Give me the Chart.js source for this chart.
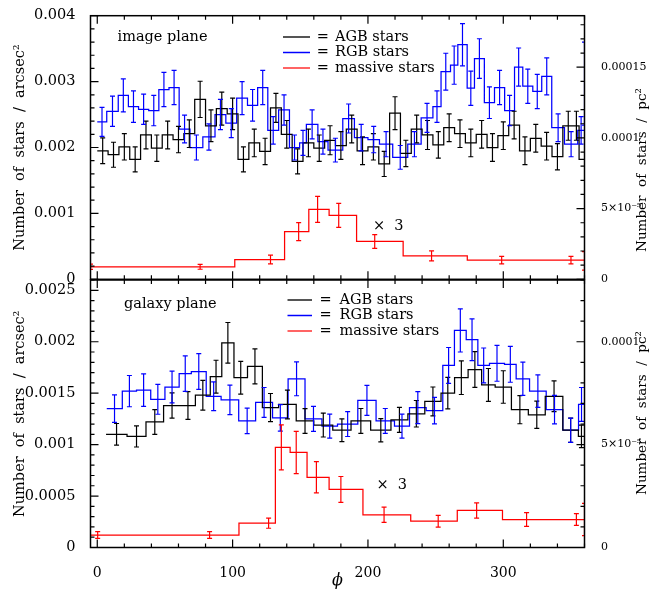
<!DOCTYPE html>
<html><head><meta charset="utf-8">
<script src="https://cdn.jsdelivr.net/npm/chart.js@4.4.1/dist/chart.umd.min.js"></script>
<style>
html,body{margin:0;padding:0;background:#fff;}
#wrap{position:relative;width:663px;height:590px;background:#fff;}
canvas{position:absolute;left:0;top:0;}
</style></head><body>
<div id="wrap"><canvas id="c1" width="663" height="590"></canvas><canvas id="c2" width="663" height="590"></canvas></div>
<script>
// ---------- axes / tick labels ----------
const phiMin = -5, phiMax = 360;
const xTickValues = [0, 100, 200, 300];
const xTickLabels = ['0', '100', '200', '300'];
const topLeftMax = 0.004, topRightMax = 0.0001864;
const botLeftMax = 0.0026, botRightMax = 0.00013;
const topLeftTicks = [0, 0.001, 0.002, 0.003, 0.004];
const topLeftLabels = ['0', '0.001', '0.002', '0.003', '0.004'];
const topRightTicks = [0, 0.00005, 0.0001, 0.00015];
const topRightLabels = ['0', '5×10⁻⁵', '0.0001', '0.00015'];
const botLeftTicks = [0, 0.0005, 0.001, 0.0015, 0.002, 0.0025];
const botLeftLabels = ['0', '0.0005', '0.001', '0.0015', '0.002', '0.0025'];
const botRightTicks = [0, 0.00005, 0.0001];
const botRightLabels = ['0', '5×10⁻⁵', '0.0001'];
const legendLabels = ['AGB stars', 'RGB stars', 'massive stars'];
const leftTitle = 'Number  of  stars  /  arcsec²';
const rightTitle = 'Number  of  stars  /  pc²';

// ---------- image plane (top) ----------
const topAgbEdges = [0,8,16,24,32,40,48,56,64,72,80,88,96,104,112,120,128,136,144,152,160,168,176,184,192,200,208,216,224,232,240,248,256,264,272,280,288,296,304,312,320,328,336,344,352,356,360];
const topAgbVals = [0.00195,0.00189,0.00201,0.00182,0.00219,0.00199,0.00219,0.00212,0.00221,0.00273,0.00233,0.00259,0.00251,0.00182,0.00207,0.00194,0.0026,0.0022,0.00179,0.00207,0.00199,0.00211,0.00203,0.00228,0.00195,0.00201,0.00175,0.00252,0.00191,0.00228,0.00219,0.00204,0.0023,0.00221,0.00207,0.0022,0.002,0.00218,0.00234,0.00195,0.00214,0.00202,0.00186,0.00233,0.00233,0.00182];
const topAgbErr = [0.000195,0.00019,0.0002,0.00019,0.00021,0.0002,0.00021,0.0002,0.00021,0.000275,0.00024,0.00025,0.00024,0.00019,0.00021,0.0002,0.00022,0.00021,0.00019,0.00021,0.0002,0.00022,0.00021,0.00021,0.00021,0.0002,0.00019,0.00025,0.0002,0.00021,0.00022,0.0002,0.00021,0.00021,0.00021,0.00021,0.00021,0.00021,0.00021,0.00021,0.00021,0.00021,0.0002,0.00022,0.00022,null];

const topRgbEdges = [0,7,15.5,23,30.5,38,45.5,53,60.5,68.5,78,87,95,103,111,118.5,126,134,142,149.5,154.5,163,170.5,181.4,190,200,208.5,218.3,229.4,239.3,248,254,261,266.4,273.3,278.7,286,293.5,301,308.3,314.4,321.8,328.4,335.8,345.2,355,360];
const topRgbVals = [0.00239,0.00255,0.00279,0.00262,0.00258,0.00256,0.00288,0.00291,0.00228,0.0020,0.00216,0.0025,0.00237,0.00275,0.00264,0.00291,0.00226,0.00257,0.0020,0.00207,0.00235,0.00209,0.00196,0.00244,0.00215,0.00212,0.00205,0.00185,0.00205,0.00245,0.00262,0.00315,0.00325,0.00356,0.0029,0.00335,0.00268,0.00291,0.00256,0.00322,0.00293,0.00285,0.00308,0.0023,0.00205,0.00226];
const topRgbErr = [0.00022,0.00023,0.00025,0.00024,0.00023,0.00023,0.00026,0.00026,0.00021,0.00019,0.0002,0.00023,0.00022,0.00025,0.00024,0.00026,0.00021,0.00023,0.00019,0.00019,0.00022,0.00019,0.00018,0.00022,0.0002,0.0002,0.00019,0.00018,0.00019,0.00022,0.00024,0.00028,0.00029,0.00032,0.00026,0.0003,0.00024,0.00026,0.00023,0.00029,0.00026,0.00026,0.00028,0.00021,0.00019,0.00021];
const topRgbEdgeBarX = [360], topRgbEdgeBarY = [0.00297], topRgbEdgeBarErr = [0.00063];

const topMassEdges = [-5,101.6,138.4,156.3,171.3,191.6,226,273.4,360];
const topMassVals = [0.00019,0.0003,0.000724,0.00106,0.00097,0.000574,0.000355,0.00029];
const topMassErrX = [-5,76,128,148.8,162.8,178.4,205,247,298.8,350,360];
const topMassErrY = [0.00019,0.00019,0.0003,0.000724,0.00106,0.00097,0.000574,0.000355,0.00029,0.00029,0.00028];
const topMassErrE = [0.00004,0.0000375,0.000067,0.000137,0.000197,0.000182,0.000105,0.000075,0.000057,0.000057,0.00014];

// ---------- galaxy plane (bottom) ----------
const botAgbEdges = [6.5,22,36,49,61.5,72.5,83.5,92,101,111,122,134,147,160,174,187.5,202,217,229.5,242,254,264,274,284,294,306,318.5,331,344,355.5,360];
const botAgbVals = [0.0011,0.00108,0.00122,0.00138,0.00138,0.00148,0.00166,0.00199,0.00165,0.00176,0.00136,0.00139,0.00123,0.00119,0.00114,0.00123,0.00114,0.00124,0.0013,0.00142,0.0015,0.00165,0.00173,0.00158,0.00156,0.00134,0.00129,0.00147,0.00114,0.00108];
const botAgbErr = [0.000105,0.000103,0.00012,0.000123,0.000135,0.000145,0.00016,0.000197,0.00016,0.00017,0.000137,0.00014,0.00012,0.000116,0.00011,0.000121,0.000113,0.000121,0.000129,0.00014,0.000153,0.000163,0.000173,0.00016,0.000158,0.000137,0.000132,0.00015,0.000118,0.00011];

const botRgbEdges = [7,18.5,29,39.5,50,60.5,69.5,80.5,91.5,104.5,117,129.5,141,153.5,166,177.5,192.5,206,219.6,230.7,243,255.3,263.9,272.6,281.2,289.8,300.9,309.5,319.4,331.7,344,355.6,360];
const botRgbVals = [0.00135,0.00152,0.00153,0.00144,0.00156,0.00169,0.00171,0.00147,0.001435,0.00123,0.00141,0.00126,0.00164,0.00125,0.00118,0.0012,0.00143,0.00123,0.00118,0.00136,0.00133,0.00177,0.00211,0.00202,0.00177,0.00179,0.00178,0.00164,0.00152,0.00134,0.00114,0.00139];
const botRgbErr = [0.000134,0.000152,0.000158,0.000145,0.000155,0.000173,0.000174,0.00014,0.000144,0.000124,0.000145,0.000129,0.000165,0.000121,0.000116,0.000121,0.000145,0.000121,0.000116,0.000156,0.000129,0.000174,0.00021,0.000203,0.000169,0.000174,0.000174,0.000161,0.000158,0.000139,0.000118,0.000165];

const botMassEdges = [-5,104.7,131.6,142.5,155,171.3,196.3,231.6,266,299.4,360];
const botMassVals = [0.000121,0.000236,0.000973,0.000924,0.000682,0.000564,0.000318,0.000256,0.00036,0.000272];
const botMassErrX = [0.3,83,126.6,136,147,161.9,180,211.9,251.9,280.3,317.2,354,360];
const botMassErrY = [0.000121,0.000121,0.000236,0.000973,0.000924,0.000682,0.000564,0.000318,0.000256,0.00036,0.000272,0.000272,0.000272];
const botMassErrE = [0.000033,0.000033,0.000049,0.000218,0.000205,0.000152,0.000126,0.000074,0.000057,0.000074,0.000067,0.000057,0.000156];

// ---------- styling ----------
const cBlack = '#000000', cBlue = '#0000ff', cRed = '#ff0000';
const FONT = '"DejaVu Serif", "Liberation Serif", serif';
const PLOT_L = 90.5, PLOT_R = 584.5, W = 663, H = 590;
Chart.defaults.font.family = FONT;
Chart.defaults.font.size = 14;
Chart.defaults.color = '#000';

function steps(edges, vals) {
  return edges.map((e, i) => ({ x: e, y: vals[Math.min(i, vals.length - 1)] }));
}
function centers(edges) {
  return edges.slice(0, -1).map((e, i) => (e + edges[i + 1]) / 2);
}

const deco = {
  id: 'deco',
  afterDraw(chart, args, o) {
    const { ctx, chartArea: a, scales } = chart;
    const xs = scales.x, ys = scales.y, y2 = scales.y2;
    // error bars
    ctx.save();
    ctx.beginPath(); ctx.rect(a.left, a.top, a.right - a.left, a.bottom - a.top); ctx.clip();
    ctx.lineWidth = 1.2;
    o.bars.forEach(b => {
      ctx.strokeStyle = b.color;
      b.x.forEach((xv, i) => {
        const e = b.e[i]; if (e == null) return;
        const px = xs.getPixelForValue(xv);
        const p1 = ys.getPixelForValue(b.y[i] - e), p2 = ys.getPixelForValue(b.y[i] + e);
        ctx.beginPath();
        ctx.moveTo(px, p1); ctx.lineTo(px, p2);
        ctx.moveTo(px - 2.5, p1); ctx.lineTo(px + 2.5, p1);
        ctx.moveTo(px - 2.5, p2); ctx.lineTo(px + 2.5, p2);
        ctx.stroke();
      });
    });
    ctx.restore();
    // frame
    ctx.save();
    ctx.strokeStyle = '#000'; ctx.lineWidth = 1.5;
    ctx.strokeRect(a.left, a.top, a.right - a.left, a.bottom - a.top);
    // inward ticks
    ctx.lineWidth = 1.2;
    const t = o.ticks;
    const isMaj = (v, m) => Math.abs(v / m - Math.round(v / m)) < 1e-6;
    ctx.beginPath();
    for (let k = Math.ceil(xs.min / t.xMinor); k * t.xMinor <= xs.max + 1e-9; k++) {
      const v = k * t.xMinor, px = xs.getPixelForValue(v), len = isMaj(v, t.xMajor) ? 8 : 4;
      ctx.moveTo(px, a.bottom); ctx.lineTo(px, a.bottom - len);
      ctx.moveTo(px, a.top); ctx.lineTo(px, a.top + len);
    }
    for (let k = 0; k * t.yMinor <= ys.max * (1 + 1e-9); k++) {
      const v = k * t.yMinor, py = ys.getPixelForValue(v), len = isMaj(v, t.yMajor) ? 8 : 4;
      ctx.moveTo(a.left, py); ctx.lineTo(a.left + len, py);
    }
    for (let k = 0; k * t.y2Minor <= y2.max * (1 + 1e-9); k++) {
      const v = k * t.y2Minor, py = y2.getPixelForValue(v), len = isMaj(v, t.y2Major) ? 8 : 4;
      ctx.moveTo(a.right, py); ctx.lineTo(a.right - len, py);
    }
    ctx.stroke();
    // texts
    ctx.fillStyle = '#000';
    ctx.font = '14.5px ' + FONT;
    ctx.textBaseline = 'middle'; ctx.textAlign = 'left';
    ctx.fillText(o.plane.text, o.plane.x, o.plane.y);
    ctx.fillText(o.times.text, o.times.x, o.times.y);
    const lg = o.legend;
    lg.colors.forEach((c, i) => {
      ctx.strokeStyle = c; ctx.lineWidth = lg.widths[i];
      ctx.beginPath(); ctx.moveTo(lg.x1, lg.ys[i]); ctx.lineTo(lg.x2, lg.ys[i]); ctx.stroke();
      ctx.textAlign = 'center'; ctx.fillText('=', lg.eqX, lg.ys[i]);
      ctx.textAlign = 'left'; ctx.fillText(legendLabels[i], lg.textX, lg.ys[i]);
    });
    // right title, reading bottom to top
    ctx.font = '13.5px ' + FONT;
    ctx.translate(o.rightTitle.x, o.rightTitle.y);
    ctx.rotate(-Math.PI / 2);
    ctx.textAlign = 'center';
    ctx.fillText(rightTitle, 0, 0);
    ctx.restore();
  }
};

function makeChart(id, cfg) {
  return new Chart(document.getElementById(id), {
    type: 'line',
    data: {
      datasets: cfg.series.map(s => ({
        data: steps(s.edges, s.vals), borderColor: s.color, borderWidth: 1.25,
        stepped: true, pointRadius: 0, fill: false, yAxisID: 'y'
      }))
    },
    options: {
      responsive: false, animation: false, events: [],
      layout: { padding: cfg.padding },
      plugins: { legend: { display: false }, tooltip: { enabled: false }, deco: cfg.deco },
      scales: {
        x: {
          type: 'linear', min: phiMin, max: phiMax,
          grid: { display: false }, border: { display: false },
          afterBuildTicks: s => { s.ticks = xTickValues.map(v => ({ value: v })); },
          afterFit: s => { s.height = cfg.xHeight; },
          ticks: { display: cfg.showX, autoSkip: false, maxRotation: 0, padding: 9, font: { size: 14 },
                   callback: v => xTickLabels[xTickValues.indexOf(v)] },
          title: { display: cfg.showX, text: 'ϕ', padding: 0, font: { size: 16, style: 'italic' } }
        },
        y: {
          position: 'left', min: 0, max: cfg.leftMax,
          grid: { display: false }, border: { display: false },
          afterBuildTicks: s => { s.ticks = cfg.leftTicks.map(v => ({ value: v })); },
          afterFit: s => { s.width = PLOT_L; },
          ticks: { autoSkip: false, padding: 7, font: { size: 14.5 },
                   callback: v => cfg.leftLabels[cfg.leftTicks.indexOf(v)] },
          title: { display: true, text: leftTitle, padding: { top: 11.5, bottom: 0 }, font: { size: 14.5 } }
        },
        y2: {
          position: 'right', min: 0, max: cfg.rightMax,
          grid: { display: false }, border: { display: false },
          afterBuildTicks: s => { s.ticks = cfg.rightTicks.map(v => ({ value: v })); },
          afterFit: s => { s.width = W - PLOT_R; },
          ticks: { autoSkip: false, padding: 8.5, font: { size: 11 },
                   callback: v => cfg.rightLabels[cfg.rightTicks.indexOf(v)] }
        }
      }
    },
    plugins: [deco]
  });
}

const legendColors = ['#555555', cBlue, '#ff3030'];
const legendWidths = [2, 1.5, 1.5];

makeChart('c1', {
  padding: { left: 0, right: 0, top: 12.3, bottom: H - 279.3 },
  xHeight: 0, showX: false,
  leftMax: topLeftMax, leftTicks: topLeftTicks, leftLabels: topLeftLabels,
  rightMax: topRightMax, rightTicks: topRightTicks, rightLabels: topRightLabels,
  series: [
    { edges: topAgbEdges, vals: topAgbVals, color: cBlack },
    { edges: topRgbEdges, vals: topRgbVals, color: cBlue },
    { edges: topMassEdges, vals: topMassVals, color: cRed }
  ],
  deco: {
    bars: [
      { x: centers(topAgbEdges), y: topAgbVals, e: topAgbErr, color: cBlack },
      { x: centers(topRgbEdges), y: topRgbVals, e: topRgbErr, color: cBlue },
      { x: topRgbEdgeBarX, y: topRgbEdgeBarY, e: topRgbEdgeBarErr, color: cBlue },
      { x: topMassErrX, y: topMassErrY, e: topMassErrE, color: cRed }
    ],
    ticks: { xMinor: 20, xMajor: 100, yMinor: 0.0002, yMajor: 0.001, y2Minor: 0.00001, y2Major: 0.00005 },
    plane: { text: 'image plane', x: 117.5, y: 37.5 },
    times: { text: '×  3', x: 373, y: 226.5 },
    legend: { x1: 283, x2: 310, eqX: 322.7, textX: 335, ys: [37, 52.5, 68], colors: legendColors, widths: legendWidths },
    rightTitle: { x: 642, y: 170 }
  }
});

makeChart('c2', {
  padding: { left: 0, right: 0, top: 280, bottom: 0 },
  xHeight: H - 547.5, showX: true,
  leftMax: botLeftMax, leftTicks: botLeftTicks, leftLabels: botLeftLabels,
  rightMax: botRightMax, rightTicks: botRightTicks, rightLabels: botRightLabels,
  series: [
    { edges: botAgbEdges, vals: botAgbVals, color: cBlack },
    { edges: botRgbEdges, vals: botRgbVals, color: cBlue },
    { edges: botMassEdges, vals: botMassVals, color: cRed }
  ],
  deco: {
    bars: [
      { x: centers(botAgbEdges), y: botAgbVals, e: botAgbErr, color: cBlack },
      { x: centers(botRgbEdges), y: botRgbVals, e: botRgbErr, color: cBlue },
      { x: botMassErrX, y: botMassErrY, e: botMassErrE, color: cRed }
    ],
    ticks: { xMinor: 20, xMajor: 100, yMinor: 0.0001, yMajor: 0.0005, y2Minor: 0.00001, y2Major: 0.00005 },
    plane: { text: 'galaxy plane', x: 124, y: 304.5 },
    times: { text: '×  3', x: 376.5, y: 485.5 },
    legend: { x1: 287.5, x2: 312, eqX: 325.5, textX: 339.5, ys: [300, 315.5, 331], colors: legendColors, widths: legendWidths },
    rightTitle: { x: 642, y: 413 }
  }
});
</script>
</body></html>
